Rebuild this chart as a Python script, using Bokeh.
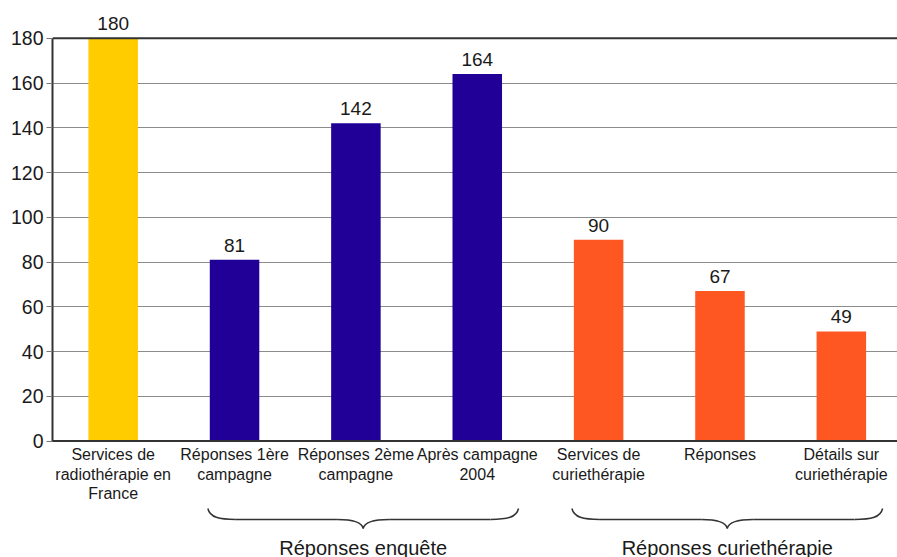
from bokeh.plotting import figure
from bokeh.models import Range1d, FixedTicker, Span, ColumnDataSource
from bokeh.core.properties import value
from bokeh.embed import file_html
from bokeh.resources import INLINE

# ---- data ----
categories = [
    "Services de\nradiothérapie en\nFrance",
    "Réponses 1ère\ncampagne",
    "Réponses 2ème\ncampagne",
    "Après campagne\n2004",
    "Services de\ncuriethérapie",
    "Réponses",
    "Détails sur\ncuriethérapie",
]
counts = [180, 81, 142, 164, 90, 67, 49]
bar_colors = ["#FFCC00", "#200096", "#200096", "#200096", "#FF5722", "#FF5722", "#FF5722"]
group_names = ["Réponses enquête", "Réponses curiethérapie"]
group_first = [1, 4]
group_last = [3, 6]
y_ticks = [0, 20, 40, 60, 80, 100, 120, 140, 160, 180]

# ---- layout constants (pixels) ----
W, H = 897, 557
LEFT = 52
Y0_PX, Y180_PX = 440.5, 37.8
KY = (Y0_PX - Y180_PX) / 180.0          # px per unit
KX = 121.36                              # px per category
x_end = (W - LEFT) / KX
y_top = 180 + Y180_PX / KY
y_bot = -(H - Y0_PX) / KY

def py(px):
    return (Y0_PX - px) / KY

def dx(px):
    return px / KX

FONT = "Liberation Sans"

p = figure(width=W, height=H, output_backend="svg", toolbar_location=None,
           x_range=Range1d(0, x_end), y_range=Range1d(y_bot, y_top),
           x_axis_location=None, min_border_left=LEFT, min_border_right=0,
           min_border_top=0, min_border_bottom=0)
p.outline_line_color = None
p.background_fill_color = "white"
p.border_fill_color = "white"
p.xgrid.visible = False
p.ygrid.ticker = FixedTicker(ticks=y_ticks)
p.ygrid.grid_line_color = "#8c8c8c"
p.ygrid.grid_line_width = 1

ax = p.yaxis[0]
ax.ticker = FixedTicker(ticks=y_ticks)
ax.bounds = (0, 180)
ax.axis_line_color = "#333333"
ax.axis_line_width = 2
ax.major_tick_out = 6
ax.major_tick_in = 0
ax.major_tick_line_color = "#777777"
ax.minor_tick_line_color = None
ax.major_label_standoff = 3
ax.major_label_text_font = FONT
ax.major_label_text_font_size = "19.5px"
ax.major_label_text_color = "#1a1a1a"

xs = [i + 0.5 for i in range(len(categories))]
src = ColumnDataSource(dict(x=xs, top=counts, color=bar_colors, cat=categories,
                            lab=[str(c) for c in counts]))

p.vbar(x="x", top="top", bottom=0, width=0.408, fill_color="color", line_color=None, source=src)

p.add_layout(Span(location=180, dimension="width", line_color="#333333", line_width=2))
p.add_layout(Span(location=0, dimension="width", line_color="#333333", line_width=2))

# value labels
p.text(x="x", y="top", text="lab", source=src, text_align="center", text_baseline="bottom",
       y_offset=-8, text_font=value(FONT), text_font_size="19px", text_color="#1a1a1a")

# category labels
p.text(x="x", y=0, text="cat", source=src, text_align="center", text_baseline="top",
       y_offset=5, text_font=value(FONT), text_font_size="16px", text_color="#1a1a1a",
       text_line_height=1.15)

# braces
yt, ym, yp = py(508), py(519), py(528)
bx0, by0, bx1, by1, bcx0, bcy0, bcx1, bcy1 = [], [], [], [], [], [], [], []
sx0, sy0, sx1, sy1 = [], [], [], []
gx, gy = [], []
for f, l in zip(group_first, group_last):
    xl = f + 0.5 - 0.22
    xr = l + 0.5 + 0.34
    xc = (xl + xr) / 2
    d1, d2 = dx(28), dx(26)
    # left / right end curves
    bx0 += [xl, xr]; by0 += [yt, yt]
    bx1 += [xl + d1, xr - d1]; by1 += [ym, ym]
    bcx0 += [xl + dx(2), xr - dx(2)]; bcy0 += [ym + (yt - ym) * 0.2, ym + (yt - ym) * 0.2]
    bcx1 += [xl + d1 * 0.4, xr - d1 * 0.4]; bcy1 += [ym, ym]
    # tip curves
    bx0 += [xc - d2, xc + d2]; by0 += [ym, ym]
    bx1 += [xc, xc]; by1 += [yp, yp]
    bcx0 += [xc - d2 * 0.3, xc + d2 * 0.3]; bcy0 += [ym, ym]
    bcx1 += [xc - dx(1), xc + dx(1)]; bcy1 += [ym - (ym - yp) * 0.4, ym - (ym - yp) * 0.4]
    # straight parts
    sx0 += [xl + d1, xc + d2]; sy0 += [ym, ym]
    sx1 += [xc - d2, xr - d1]; sy1 += [ym, ym]
    gx.append(xc)
    gy.append(py(547))

p.bezier(x0=bx0, y0=by0, x1=bx1, y1=by1, cx0=bcx0, cy0=bcy0, cx1=bcx1, cy1=bcy1,
         line_color="#333333", line_width=1.5)
p.segment(x0=sx0, y0=sy0, x1=sx1, y1=sy1, line_color="#333333", line_width=1.5)

p.text(x=gx, y=gy, text=group_names, text_align="center", text_baseline="middle",
       text_font=value(FONT), text_font_size="20px", text_color="#1a1a1a")

open("out.html", "w").write(file_html(p, INLINE))
